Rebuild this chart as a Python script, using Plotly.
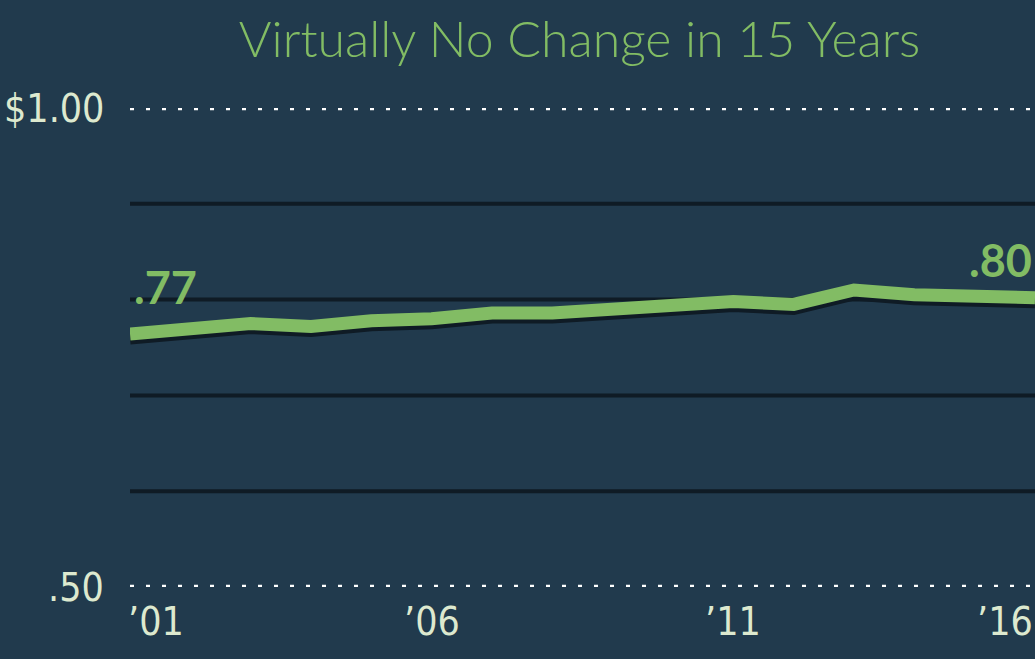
import plotly.graph_objects as go

years = list(range(2001, 2017))
values = [0.764, 0.768, 0.775, 0.772, 0.778, 0.780, 0.786, 0.786, 0.791, 0.796,
          0.798, 0.795, 0.810, 0.805, 0.804, 0.802]
x_tick_vals = [2001, 2006, 2011, 2016]
x_tick_text = ["\u201901", "\u201906", "\u201911", "\u201916"]
y_tick_vals = [0.5, 1.0]
y_tick_text = [".50", "$1.00"]
grid_vals = [0.6, 0.7, 0.8, 0.9]
title_text = "Virtually No Change in 15 Years"

BG = "#213a4d"
GREEN = "#82bc64"
CREAM = "#dde9cf"
DARK = "#0f1b25"
TICKFONT = "DejaVu Sans Condensed"

PLOT_H = 659 - 108 - 72
shadow_off = 4 / PLOT_H * 0.5  # 4px in data units

fig = go.Figure()
fig.add_trace(go.Scatter(x=years, y=[v - shadow_off for v in values], mode="lines",
                         line=dict(color=DARK, width=13), hoverinfo="skip", cliponaxis=False))
fig.add_trace(go.Scatter(x=years, y=values, mode="lines",
                         line=dict(color=GREEN, width=13), cliponaxis=False))

shapes = []
for g in grid_vals:
    shapes.append(dict(type="line", xref="x", yref="y", x0=years[0], x1=years[-1], y0=g, y1=g,
                       line=dict(color=DARK, width=4), layer="below"))
for g in y_tick_vals:
    shapes.append(dict(type="line", xref="x", yref="y", x0=years[0], x1=years[-1], y0=g, y1=g,
                       line=dict(color="white", width=4.5, dash="4px,12px"), layer="below"))

annotations = []
anchors = ["left", "center", "center", "right"]
for xv, t, a in zip(x_tick_vals, x_tick_text, anchors):
    annotations.append(dict(x=xv, y=0.5, xref="x", yref="y", text=t, showarrow=False,
                            xanchor=a, yanchor="top", yshift=-10, xshift=(-4 if a == "left" else 0),
                            font=dict(family=TICKFONT, size=39, color=CREAM, weight=300)))
for yv, t in zip(y_tick_vals, y_tick_text):
    annotations.append(dict(x=0, y=yv, xref="paper", yref="y", text=t, showarrow=False,
                            xanchor="right", yanchor="middle", xshift=-24,
                            font=dict(family=TICKFONT, size=39, color=CREAM, weight=300)))
annotations.append(dict(x=years[0], y=values[0], xref="x", yref="y", text="<b>.77</b>",
                        showarrow=False, xanchor="left", yanchor="bottom", yshift=18, xshift=2,
                        font=dict(family="Lato", size=45, color=GREEN)))
annotations.append(dict(x=years[-1], y=values[-1], xref="x", yref="y", text="<b>.80</b>",
                        showarrow=False, xanchor="right", yanchor="bottom", yshift=9, xshift=-1,
                        font=dict(family="Lato", size=45, color=GREEN)))

fig.update_layout(
    width=1035, height=659,
    paper_bgcolor=BG, plot_bgcolor=BG,
    margin=dict(l=130, r=0, t=108, b=72),
    showlegend=False,
    title=dict(text=title_text, x=0.56, xanchor="center", y=0.94, yanchor="middle",
               font=dict(family="Lato", size=50, color=GREEN, weight=300)),
    xaxis=dict(range=[years[0], years[-1]], showgrid=False, zeroline=False, showticklabels=False,
               showline=False, ticks=""),
    yaxis=dict(range=[0.5, 1.0], showgrid=False, zeroline=False, showticklabels=False,
               showline=False, ticks=""),
    shapes=shapes, annotations=annotations,
)

fig.write_html("out.html", config={"displayModeBar": False},
               post_script="document.body.style.margin='0';document.body.style.background='" + BG + "';")
